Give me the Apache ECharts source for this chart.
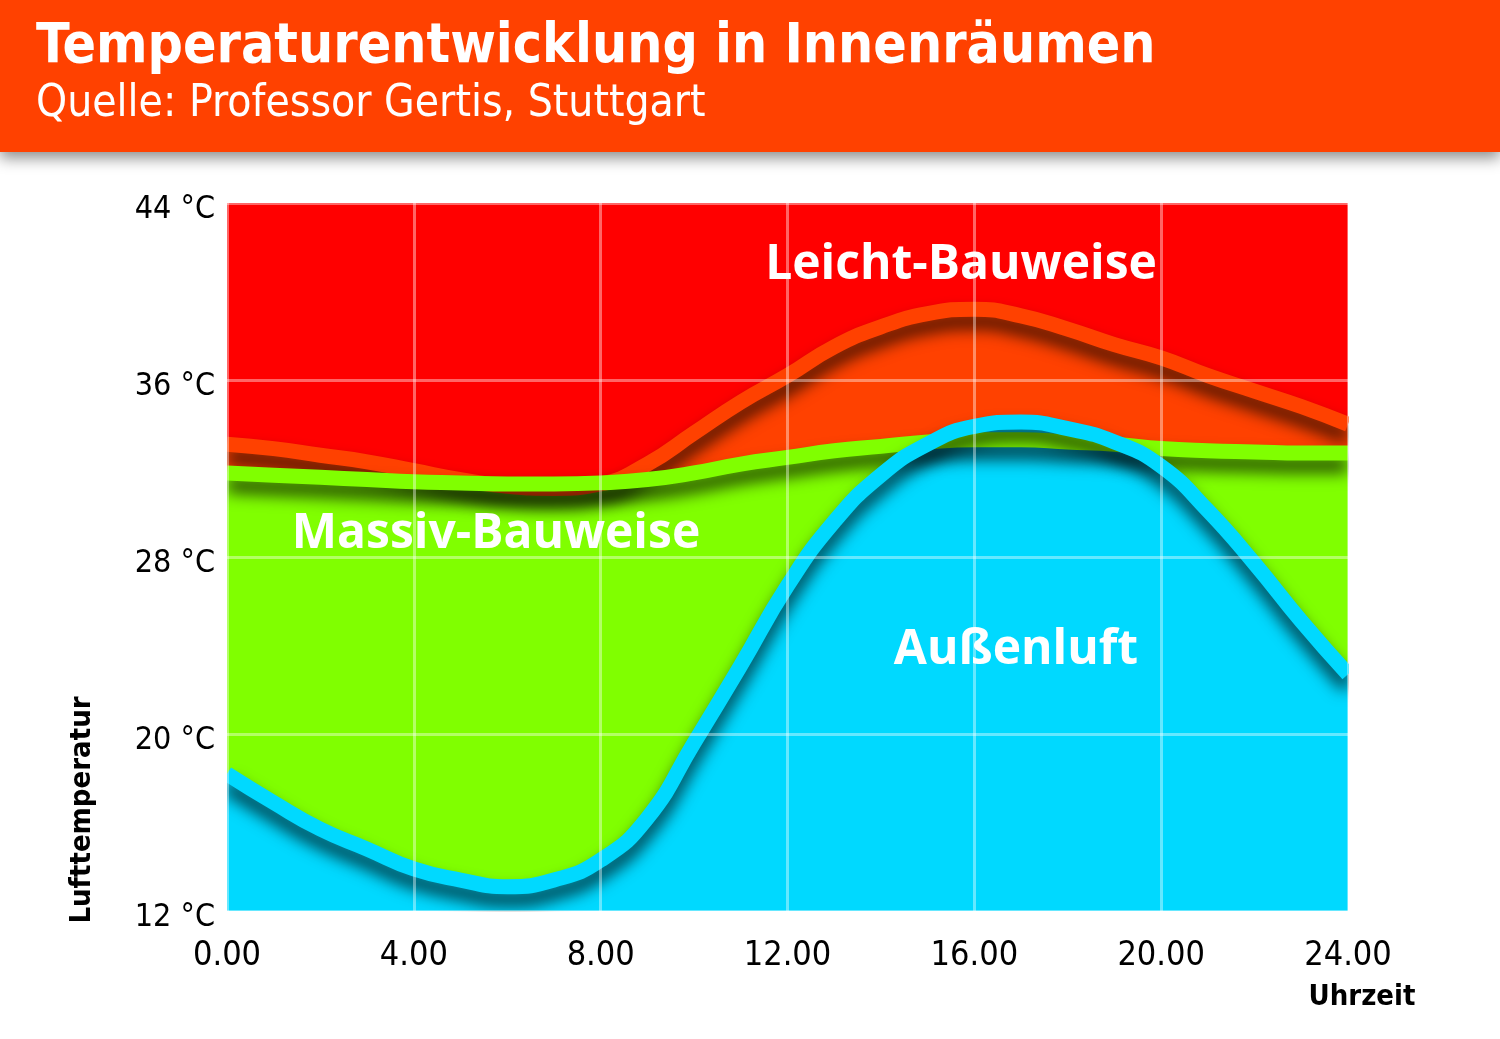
<!DOCTYPE html>
<html lang="de">

<head>
  <meta charset="utf-8">
  <title>Temperaturentwicklung in Innenräumen</title>
  <script src="https://cdn.jsdelivr.net/npm/echarts@6/dist/echarts.min.js"></script>
  <style>
    html, body { margin: 0; padding: 0; background: #fff; }
    #chart { width: 1500px; height: 1039px; }
  </style>
</head>

<body>
  <div id="chart"></div>
</body>

<script>

  // Uhrzeit (h)
  var hours = [0, 1, 2, 3, 4, 5, 6, 7, 8, 9, 10, 11, 12, 13, 14, 15, 16, 17, 18, 19, 20, 21, 22, 23, 24];
  // Lufttemperatur in °C
  var leicht = [33.1, 32.9, 32.6, 32.3, 31.9, 31.5, 31.2, 31.1, 31.3, 32.2, 33.6, 35.0, 36.2, 37.5, 38.4, 39.0, 39.2, 38.9, 38.3, 37.6, 37.0, 36.2, 35.5, 34.8, 34.0];
  var massiv = [31.8, 31.7, 31.6, 31.5, 31.4, 31.35, 31.3, 31.3, 31.35, 31.5, 31.8, 32.2, 32.5, 32.8, 33.0, 33.2, 33.3, 33.3, 33.2, 33.1, 32.9, 32.8, 32.75, 32.7, 32.7];
  var aussen = [18.2, 16.9, 15.7, 14.8, 13.9, 13.4, 13.1, 13.4, 14.3, 16.2, 19.6, 23.1, 26.7, 29.6, 31.7, 33.1, 33.9, 34.1, 33.8, 33.2, 32.1, 30.1, 27.7, 25.1, 22.7];

  var seriesNames = ['Leicht-Bauweise', 'Massiv-Bauweise', 'Außenluft'];
  var colors = ['#ff4100', '#80ff00', '#00d9ff'];

  var narrow = '"Liberation Sans Narrow", "DejaVu Sans Condensed", sans-serif';
  var bold = '"Open Sans", "Noto Sans", sans-serif';

  function pairs(ys) {
    return hours.map(function (h, i) { return [h, ys[i]]; });
  }

  function areaSeries(name, ys, color) {
    return {
      name: name,
      type: 'line',
      data: pairs(ys),
      smooth: 0.5,
      smoothConstraint: false,
      showSymbol: false,
      silent: true,
      clip: true,
      lineStyle: {
        color: color,
        width: 15,
        shadowColor: 'rgba(0, 0, 0, 0.72)',
        shadowBlur: 16,
        shadowOffsetY: 12
      },
      areaStyle: {
        color: color,
        opacity: 1,
        origin: 'start'
      }
    };
  }

  // white strips hiding the line shadows that spill over the plot edges
  function mask(x, y, w, h) {
    return { type: 'rect', z: 8, silent: true, shape: { x: x, y: y, width: w, height: h }, style: { fill: '#fff' } };
  }

  var plot = echarts.init(document.getElementById('chart'));

  option = {
    animation: false,
    backgroundColor: '#fff',
    grid: {
      left: 227,
      top: 203,
      right: 152,
      bottom: 128,
      show: true,
      backgroundColor: '#ff0000',
      borderWidth: 0
    },
    xAxis: {
      type: 'value',
      min: 0,
      max: 24,
      interval: 4,
      z: 10,
      axisLine: { show: false },
      axisTick: { show: false },
      axisLabel: {
        margin: 28,
        color: '#000',
        fontFamily: narrow,
        fontSize: 34,
        formatter: function (v) { return v.toFixed(2); }
      },
      splitLine: {
        show: true,
        lineStyle: { color: 'rgba(255, 255, 255, 0.4)', width: 3 }
      }
    },
    yAxis: {
      type: 'value',
      min: 12,
      max: 44,
      interval: 8,
      z: 10,
      axisLine: { show: false },
      axisTick: { show: false },
      axisLabel: {
        margin: 12,
        color: '#000',
        fontFamily: narrow,
        fontSize: 32,
        verticalAlign: 'top',
        lineHeight: 14,
        formatter: '{value} °C'
      },
      splitLine: {
        show: true,
        lineStyle: { color: 'rgba(255, 255, 255, 0.4)', width: 3 }
      }
    },
    series: [
      areaSeries(seriesNames[0], leicht, colors[0]),
      areaSeries(seriesNames[1], massiv, colors[1]),
      areaSeries(seriesNames[2], aussen, colors[2])
    ],
    graphic: [
      mask(1349, 180, 40, 745),
      mask(216, 180, 11, 745),
      mask(216, 912, 1170, 16),
      {
        type: 'rect',
        z: 20,
        shape: { x: 0, y: 0, width: 1500, height: 152 },
        style: {
          fill: '#ff4100',
          shadowColor: 'rgba(0, 0, 0, 0.45)',
          shadowBlur: 14,
          shadowOffsetY: 6
        }
      },
      {
        type: 'text', z: 21, left: 36, top: 20,
        style: { text: 'Temperaturentwicklung in Innenräumen', fill: '#fff', font: 'bold 55px ' + narrow }
      },
      {
        type: 'text', z: 21, left: 36, top: 83,
        style: { text: 'Quelle: Professor Gertis, Stuttgart', fill: '#fff', font: '44px ' + narrow }
      },
      {
        type: 'text', z: 5, x: 961, y: 265,
        style: { text: seriesNames[0], fill: '#fff', font: 'bold 48px ' + bold, align: 'center', verticalAlign: 'middle' }
      },
      {
        type: 'text', z: 5, x: 496, y: 534,
        style: { text: seriesNames[1], fill: '#fff', font: 'bold 48px ' + bold, align: 'center', verticalAlign: 'middle' }
      },
      {
        type: 'text', z: 5, x: 1016, y: 650,
        style: { text: seriesNames[2], fill: '#fff', font: 'bold 48px ' + bold, align: 'center', verticalAlign: 'middle' }
      },
      {
        type: 'text', z: 21, x: 82, y: 810, rotation: Math.PI / 2,
        style: { text: 'Lufttemperatur', fill: '#000', font: 'bold 29px ' + narrow, align: 'center', verticalAlign: 'middle' }
      },
      {
        type: 'text', z: 21, x: 1362, y: 997,
        style: { text: 'Uhrzeit', fill: '#000', font: 'bold 29px ' + narrow, align: 'center', verticalAlign: 'middle' }
      }
    ]
  };
  plot.setOption(option = option)

</script>

</html>
